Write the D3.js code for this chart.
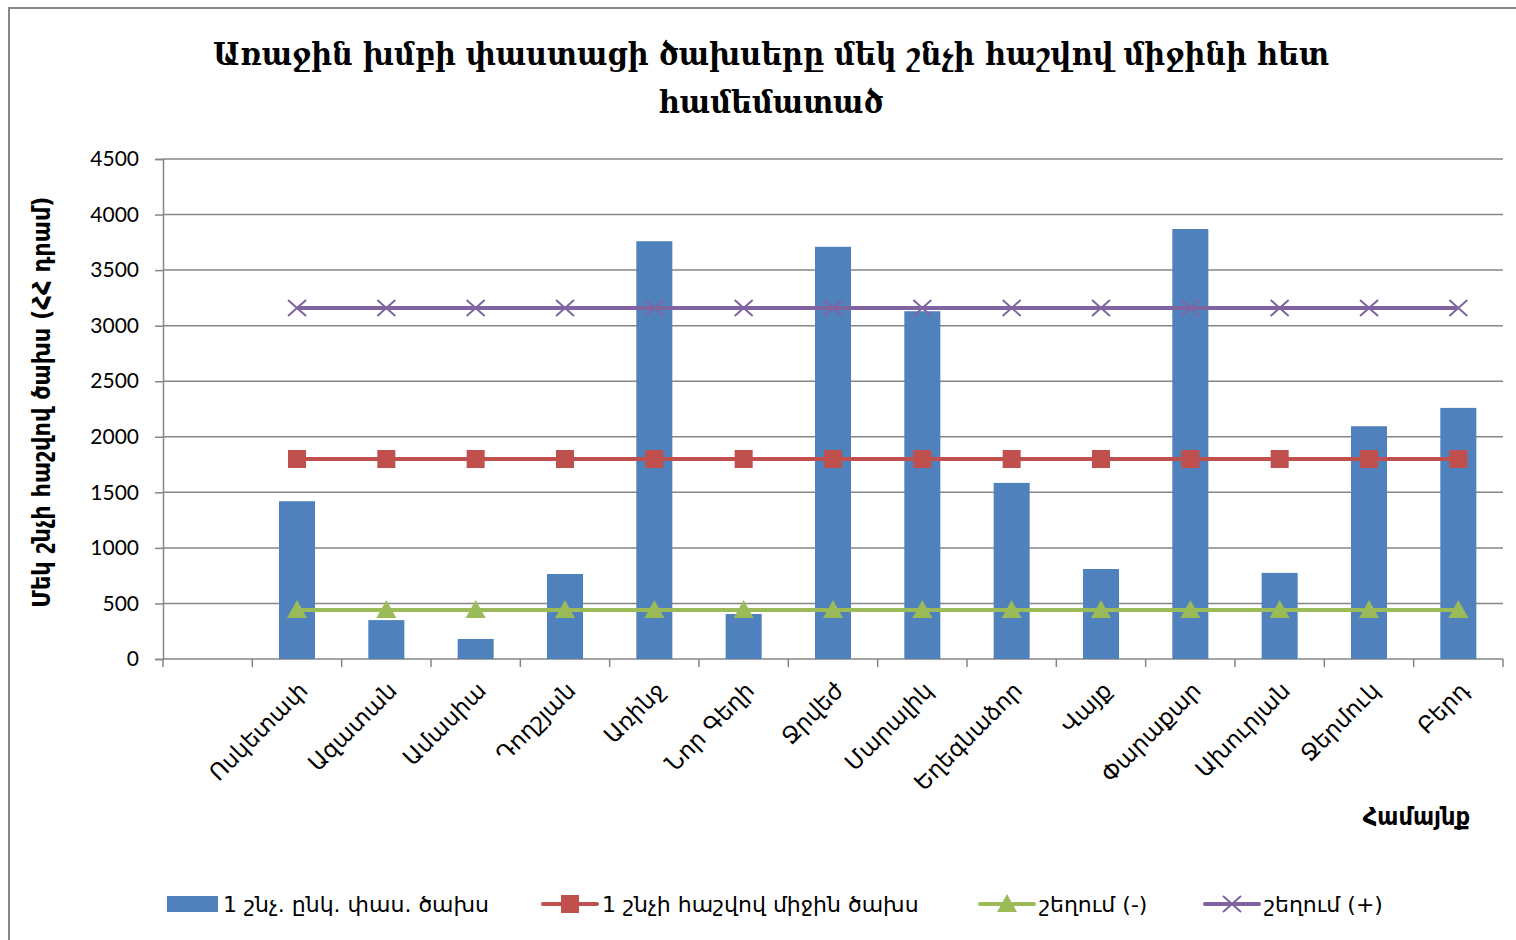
<!DOCTYPE html>
<html>
<head>
<meta charset="utf-8">
<script src="https://cdn.jsdelivr.net/npm/d3@7"></script>
<style>
  body { margin: 0; background: #fff; }
  text { fill: #000; }
</style>
</head>
<body>
<script>
var w = 1516;
var h = 940;

// categories (the first slot is empty in the original)
var communities = ["", "Ոսկետափ", "Ազատան", "Ամասիա", "Դողշյան", "Առինջ", "Նոր Գեղի",
  "Ջրվեժ", "Մարալիկ", "Եղեգնաձոր", "Վայք", "Փարաքար", "Ախուրյան", "Ջերմուկ", "Բերդ"];

var spending = [null, 1420, 350, 180, 765, 3760, 405, 3710, 3130, 1585, 810, 3870, 775, 2095, 2260];
var average = [null, 1800, 1800, 1800, 1800, 1800, 1800, 1800, 1800, 1800, 1800, 1800, 1800, 1800, 1800];
var devMinus = [null, 440, 440, 440, 440, 440, 440, 440, 440, 440, 440, 440, 440, 440, 440];
var devPlus = [null, 3160, 3160, 3160, 3160, 3160, 3160, 3160, 3160, 3160, 3160, 3160, 3160, 3160, 3160];

var yTicks = [0, 500, 1000, 1500, 2000, 2500, 3000, 3500, 4000, 4500];

var titleLines = ["Առաջին խմբի փաստացի ծախսերը մեկ շնչի հաշվով  միջինի հետ", "համեմատած"];
var yTitle = "Մեկ շնչի հաշվով ծախս (ՀՀ դրամ)";
var xTitle = "Համայնք";
var legendNames = ["1 շնչ. ընկ. փաս. ծախս", "1 շնչի հաշվով միջին ծախս", "շեղում (-)", "շեղում (+)"];

var serifC = "'DejaVu Serif Condensed', 'DejaVu Serif', serif";
var armC = "'DejaVu Sans Condensed', 'DejaVu Sans', sans-serif";
var arm = "'DejaVu Sans', sans-serif";
var num = "Lato, 'Open Sans', sans-serif";

var svg = d3.select("body").append("svg")
  .attr("width", w).attr("height", h);

svg.append("rect")
  .attr("x", 9).attr("y", 8).attr("width", w + 20).attr("height", h + 20)
  .attr("fill", "#fff").attr("stroke", "#868686").attr("stroke-width", 2);

var x = d3.scaleBand().domain(d3.range(communities.length)).range([163, 1503]);
var y = d3.scaleLinear().domain([0, 4500]).range([659, 159]);
var cx = function(i){ return x(i) + x.bandwidth() / 2; };

// title
svg.append("text")
  .attr("text-anchor", "middle")
  .style("font-family", serifC).style("font-weight", "bold").style("font-size", "32px")
  .selectAll("tspan").data(titleLines).enter().append("tspan")
  .attr("x", 771).attr("y", function(d, i){ return 65 + i * 48; })
  .text(function(d){ return d; });

// gridlines
svg.append("g").selectAll("line").data(yTicks).enter().append("line")
  .attr("x1", 163).attr("x2", 1503)
  .attr("y1", function(d){ return y(d); }).attr("y2", function(d){ return y(d); })
  .attr("stroke", "#868686").attr("stroke-width", 1.5);

// y axis
var yAxis = svg.append("g").attr("transform", "translate(163,0)")
  .call(d3.axisLeft(y).tickValues(yTicks).tickSize(8).tickPadding(16).tickFormat(d3.format("d")));
yAxis.select(".domain").attr("stroke", "#868686").attr("stroke-width", 1.5);
yAxis.selectAll(".tick line").attr("stroke", "#868686").attr("stroke-width", 1.5);
yAxis.selectAll(".tick text").style("font-family", num).style("font-size", "21px").attr("fill", "#000");

// x axis ticks at boundaries
var bounds = d3.range(communities.length + 1).map(function(i){ return 163 + i * x.bandwidth(); });
svg.append("g").selectAll("line").data(bounds).enter().append("line")
  .attr("x1", function(d){ return d; }).attr("x2", function(d){ return d; })
  .attr("y1", 659).attr("y2", 667)
  .attr("stroke", "#868686").attr("stroke-width", 1.5);

// category labels
svg.append("g").selectAll("text").data(communities).enter().append("text")
  .attr("text-anchor", "end")
  .attr("transform", function(d, i){ return "translate(" + (cx(i) + 12) + ",692) rotate(-45)"; })
  .style("font-family", arm).style("font-size", "23px")
  .text(function(d){ return d; });

// bars
var barW = 36;
svg.append("g").selectAll("rect").data(spending).enter()
  .filter(function(d){ return d != null; })
  .append("rect")
  .attr("x", function(d, i){ return cx(i + 1) - barW / 2; })
  .attr("y", function(d){ return y(d); })
  .attr("width", barW)
  .attr("height", function(d){ return y(0) - y(d); })
  .attr("fill", "#4F81BD");

// lines
function series(vals, color){
  var pts = vals.map(function(v, i){ return {i: i, v: v}; }).filter(function(p){ return p.v != null; });
  svg.append("path").datum(pts)
    .attr("fill", "none").attr("stroke", color).attr("stroke-width", 4)
    .attr("d", d3.line().x(function(p){ return cx(p.i); }).y(function(p){ return y(p.v); }));
  return svg.append("g").selectAll("g").data(pts).enter().append("g")
    .attr("transform", function(p){ return "translate(" + cx(p.i) + "," + y(p.v) + ")"; });
}

series(average, "#C0504D").append("rect")
  .attr("x", -9).attr("y", -9).attr("width", 18).attr("height", 18).attr("fill", "#C0504D");

series(devMinus, "#9BBB59").append("path")
  .attr("d", "M0,-10L10,8L-10,8Z").attr("fill", "#9BBB59");

series(devPlus, "#8064A2").append("path")
  .attr("d", "M-9,-8L9,8M-9,8L9,-8").attr("stroke", "#8064A2").attr("stroke-width", 2);

// axis titles
svg.append("text")
  .attr("transform", "translate(50,402) rotate(-90)")
  .attr("text-anchor", "middle")
  .style("font-family", armC).style("font-weight", "bold").style("font-size", "25px")
  .text(yTitle);

svg.append("text")
  .attr("x", 1470).attr("y", 825).attr("text-anchor", "end")
  .style("font-family", armC).style("font-weight", "bold").style("font-size", "25px")
  .text(xTitle);

// legend
var legX = [167, 543, 980, 1205];
var leg = svg.append("g").selectAll("g").data(legendNames).enter().append("g")
  .attr("transform", function(d, i){ return "translate(" + legX[i] + ",904)"; });

leg.filter(function(d, i){ return i === 0; }).append("rect")
  .attr("x", 0).attr("y", -8).attr("width", 51).attr("height", 16).attr("fill", "#4F81BD");

var legColors = [null, "#C0504D", "#9BBB59", "#8064A2"];
leg.filter(function(d, i){ return i > 0; }).append("line")
  .attr("x1", 0).attr("x2", 54).attr("y1", 0).attr("y2", 0)
  .attr("stroke", function(d){ return legColors[legendNames.indexOf(d)]; }).attr("stroke-width", 4)
  .attr("stroke-linecap", "round");

leg.filter(function(d, i){ return i === 1; }).append("rect")
  .attr("x", 18).attr("y", -9).attr("width", 18).attr("height", 18).attr("fill", "#C0504D");
leg.filter(function(d, i){ return i === 2; }).append("path")
  .attr("d", "M27,-10L37,8L17,8Z").attr("fill", "#9BBB59");
leg.filter(function(d, i){ return i === 3; }).append("path")
  .attr("d", "M18,-8L36,8M18,8L36,-8").attr("stroke", "#8064A2").attr("stroke-width", 2);

leg.append("text")
  .attr("x", function(d, i){ return i === 0 ? 56 : 59; }).attr("y", 8)
  .style("font-family", arm).style("font-size", "22px")
  .text(function(d){ return d; });
</script>
</body>
</html>
